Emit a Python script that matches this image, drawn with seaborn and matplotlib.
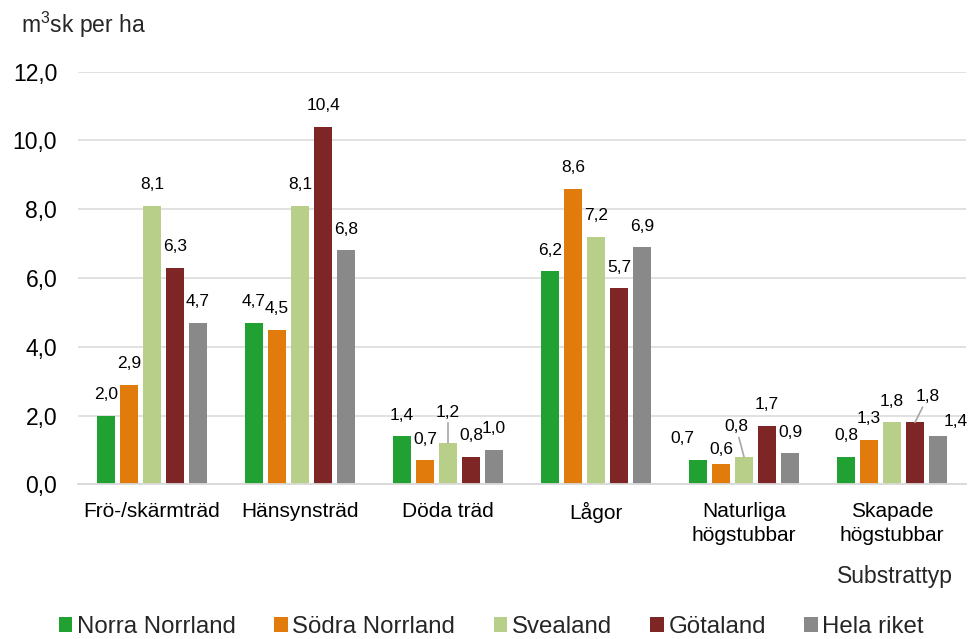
import numpy as np
import pandas as pd
import matplotlib
matplotlib.use("Agg")
import matplotlib.pyplot as plt
import seaborn as sns
from matplotlib.ticker import FuncFormatter

# ---- data ----
categories = ["Frö-/skärmträd", "Hänsynsträd", "Döda träd", "Lågor",
              "Naturliga\nhögstubbar", "Skapade\nhögstubbar"]
regions = ["Norra Norrland", "Södra Norrland", "Svealand", "Götaland", "Hela riket"]
norra = [2.0, 4.7, 1.4, 6.2, 0.7, 0.8]
sodra = [2.9, 4.5, 0.7, 8.6, 0.6, 1.3]
svealand = [8.1, 8.1, 1.2, 7.2, 0.8, 1.8]
gotaland = [6.3, 10.4, 0.8, 5.7, 1.7, 1.8]
hela = [4.7, 6.8, 1.0, 6.9, 0.9, 1.4]
y_ticks = [0, 2, 4, 6, 8, 10, 12]
y_unit = r"m$^{3}$sk per ha"
x_title = "Substrattyp"

colors = ["#21A132", "#E07B0C", "#B8CF8A", "#7E2526", "#898989"]

# label offsets in pixels (category index, region index) -> (dx, dy, leader)
default_offset = (0, 21, False)
label_offsets = {
    (2, 2): (0, 31, True),
    (4, 0): (-16, 22, False),
    (4, 1): (0, 14, False),
    (4, 2): (-8, 30, True),
    (5, 3): (13, 26, True),
    (5, 4): (18, 15, False),
}

sns.set_theme(style="white")
plt.rcParams["font.family"] = ["Liberation Sans", "DejaVu Sans"]
plt.rcParams["mathtext.fontset"] = "custom"
plt.rcParams["mathtext.rm"] = "Liberation Sans"
plt.rcParams["mathtext.it"] = "Liberation Sans"
plt.rcParams["mathtext.default"] = "rm"

series = [norra, sodra, svealand, gotaland, hela]
df = pd.DataFrame({
    "Substrattyp": np.tile(categories, len(regions)),
    "Region": np.repeat(regions, len(categories)),
    "Värde": np.concatenate(series),
})

fig = plt.figure(figsize=(9.69, 6.39), dpi=100)
ax = fig.add_axes([0.0805, 0.2421, 0.9164, 0.6457])

sns.barplot(data=df, x="Substrattyp", y="Värde", hue="Region",
            order=categories, hue_order=regions, palette=colors,
            width=0.777, gap=0.217, saturation=1, linewidth=0,
            errorbar=None, ax=ax, legend=True)

ax.set_xlim(-0.5, 5.5)
ax.set_ylim(0, 12)
ax.set_yticks(y_ticks)
ax.yaxis.set_major_formatter(FuncFormatter(lambda v, p: f"{v:.1f}".replace(".", ",")))
ax.set_xlabel("")
ax.set_ylabel("")
ax.set_axisbelow(True)
ax.grid(axis="y", color="#D9D9D9", linewidth=1.1)
ax.grid(axis="x", visible=False)
for s in ["left", "top", "right"]:
    ax.spines[s].set_visible(False)
ax.spines["bottom"].set_color("#D9D9D9")
ax.spines["bottom"].set_linewidth(1.3)
ax.tick_params(axis="y", length=0, labelsize=16.5, pad=15, colors="black")
ax.tick_params(axis="x", length=0, labelsize=15, pad=13, colors="black")
for t in ax.get_xticklabels():
    t.set_linespacing(1.3)

# data labels
for ri, container in enumerate(ax.containers):
    for bar in container:
        h = bar.get_height()
        xc = bar.get_x() + bar.get_width() / 2
        ci = int(round(xc))
        dx, dy, leader = label_offsets.get((ci, ri), default_offset)
        kw = {}
        if leader:
            kw["arrowprops"] = dict(arrowstyle="-", color="#A6A6A6", lw=1.2,
                                    shrinkA=0, shrinkB=0)
        ax.annotate(f"{h:.1f}".replace(".", ","), xy=(xc, h),
                    xytext=(dx, dy), textcoords="offset pixels",
                    ha="center", va="center", fontsize=12.5, color="black", **kw)

fig.text(21 / 969, 1 - 25 / 639, y_unit, ha="left", va="center", fontsize=16.5)
fig.text(953 / 969, 1 - 577 / 639, x_title, ha="right", va="center", fontsize=16.5)

handles, labels = ax.get_legend_handles_labels()
if ax.get_legend() is not None:
    ax.get_legend().remove()
fig.legend(handles, labels, loc="center", bbox_to_anchor=(491.5 / 969, 1 - 627 / 639),
           ncol=5, frameon=False, fontsize=17.3, handlelength=0.55, handleheight=0.55,
           handletextpad=0.2, columnspacing=1.6, borderpad=0, borderaxespad=0)

fig.savefig("out.png", dpi=100)
